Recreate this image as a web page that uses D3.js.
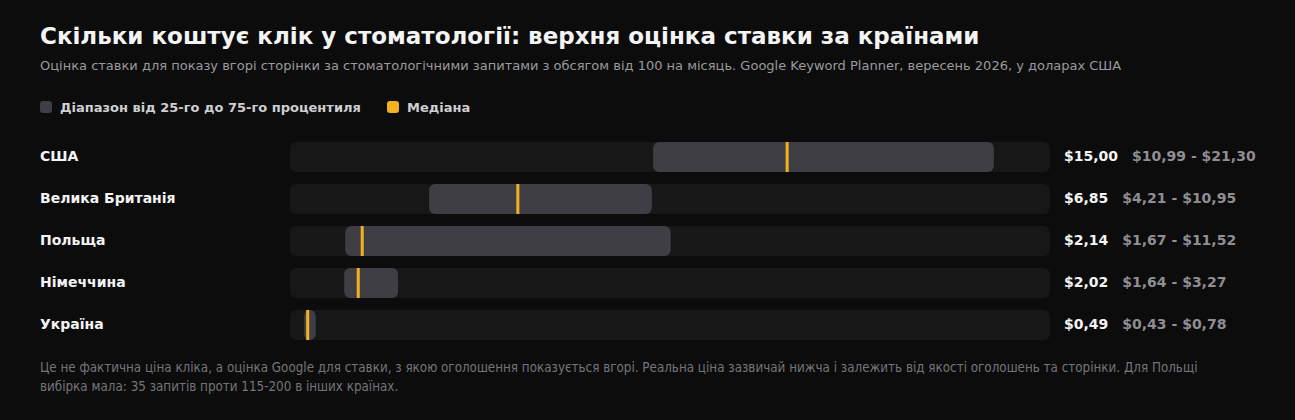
<!DOCTYPE html>
<html><head><meta charset="utf-8">
<script src="https://cdn.jsdelivr.net/npm/d3@7"></script>
<style>
html,body{margin:0;padding:0;background:#0c0c0c;}
svg{display:block;}
</style></head><body>
<svg id="chart" width="1295" height="420"></svg>
<script>
const countries = ["США", "Велика Британія", "Польща", "Німеччина", "Україна"];
const medians = [15.00, 6.85, 2.14, 2.02, 0.49];
const p25 = [10.99, 4.21, 1.67, 1.64, 0.43];
const p75 = [21.30, 10.95, 11.52, 3.27, 0.78];
const legendLabels = ["Діапазон від 25-го до 75-го процентиля", "Медіана"];
const titleText = "Скільки коштує клік у стоматології: верхня оцінка ставки за країнами";
const subtitleText = "Оцінка ставки для показу вгорі сторінки за стоматологічними запитами з обсягом від 100 на місяць. Google Keyword Planner, вересень 2026, у доларах США";
const noteLines = ["Це не фактична ціна кліка, а оцінка Google для ставки, з якою оголошення показується вгорі. Реальна ціна зазвичай нижча і залежить від якості оголошень та сторінки. Для Польщі",
  "вибірка мала: 35 запитів проти 115-200 в інших країнах."];

const fmt = v => "$" + v.toFixed(2).replace(".", ",");
const font = "DejaVu Sans, Verdana, sans-serif";
const svg = d3.select("#chart");
svg.append("rect").attr("width",1295).attr("height",420).attr("fill","#0c0c0c");

svg.append("text").attr("x",40).attr("y",44).attr("fill","#f4f4f4")
  .attr("font-family",font).attr("font-weight","bold").attr("font-size",23).text(titleText);
svg.append("text").attr("x",40).attr("y",70).attr("fill","#9a9a9e")
  .attr("font-family",font).attr("font-size",13).text(subtitleText);

// legend
const legX = [40, 387];
const legCol = ["#3f3e44", "#f2b11f"];
legendLabels.forEach((l,i)=>{
  svg.append("rect").attr("x",legX[i]).attr("y",101).attr("width",12).attr("height",12).attr("rx",3).attr("fill",legCol[i]);
  svg.append("text").attr("x",legX[i]+20).attr("y",111.5).attr("fill","#cfcfd2")
    .attr("font-family",font).attr("font-weight","bold").attr("font-size",13).text(l);
});

const x = d3.scaleLinear().domain([0, 23]).range([290, 1050]);
const step = 42, bh = 30;
const y = d3.scalePoint().domain(countries).range([142, 142 + step*(countries.length-1)]);

const rows = svg.append("g").selectAll("g").data(countries).join("g");
rows.append("text").attr("x",40).attr("y",c=>y(c)+bh/2+4).attr("fill","#f4f4f4")
  .attr("font-family",font).attr("font-weight","bold").attr("font-size",14).text(c=>c);
rows.append("rect").attr("x",x(0)).attr("y",c=>y(c)).attr("width",x(23)-x(0)).attr("height",bh)
  .attr("rx",6).attr("fill","#171717");
rows.append("rect").attr("x",(c,i)=>x(p25[i])).attr("y",c=>y(c))
  .attr("width",(c,i)=>x(p75[i])-x(p25[i])).attr("height",bh).attr("rx",6).attr("fill","#3f3e44");
rows.append("rect").attr("x",(c,i)=>x(medians[i])).attr("y",c=>y(c))
  .attr("width",3).attr("height",bh).attr("fill","#f2b11f");

rows.each(function(c,i){
  const g = d3.select(this);
  const t = g.append("text").attr("x",1064).attr("y",y(c)+bh/2+4).attr("fill","#f4f4f4")
    .attr("font-family",font).attr("font-weight","bold").attr("font-size",14).text(fmt(medians[i]));
  const w = t.node().getComputedTextLength();
  g.append("text").attr("x",1064 + w + 14).attr("y",y(c)+bh/2+4).attr("fill","#8e8e93")
    .attr("font-family",font).attr("font-weight","bold").attr("font-size",14)
    .text(fmt(p25[i]) + " - " + fmt(p75[i]));
});

noteLines.forEach((l,i)=>{
  svg.append("text").attr("x",40).attr("y",372 + i*19).attr("fill","#747478")
    .attr("font-family","DejaVu Sans Condensed, DejaVu Sans, sans-serif").attr("font-stretch","condensed")
    .attr("font-size",13.3).text(l);
});
</script></body></html>
